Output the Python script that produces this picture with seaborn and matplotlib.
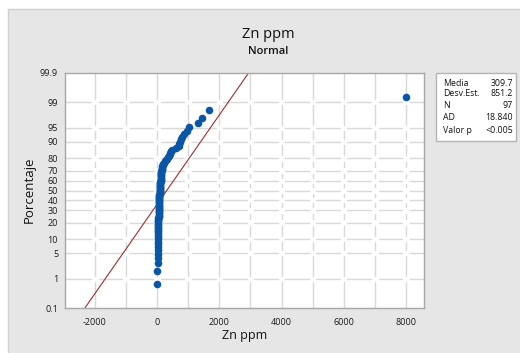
import numpy as np
import pandas as pd
import seaborn as sns
import matplotlib
matplotlib.use("Agg")
import matplotlib.pyplot as plt
from matplotlib.patches import Rectangle
from statistics import NormalDist

# Zn concentrations (ppm), sorted
zn_ppm = [
    5, 10,
    15, 18, 20, 20, 22, 24, 25, 26, 28, 30, 30, 32, 34, 35, 36, 38, 40, 40,
    42, 44, 45, 46, 48, 50, 50, 52, 54, 55,
    56, 58, 60, 60, 62, 64, 65, 66, 68, 70, 72, 74, 75, 76, 78, 80, 82, 84,
    85, 88, 90, 92, 95, 98, 100, 102, 105, 108, 110, 112,
    115, 118, 120, 125, 128, 130, 135, 140, 150,
    160, 165, 170, 180,
    200, 230, 260, 280,
    320, 350, 380, 400,
    430, 450,
    495, 600, 690, 720, 750, 770, 815, 870, 955,
    1030, 1300, 1430, 1680, 8000,
]

# Summary statistics reported for the normal fit
stat_names = ["Media", "Desv.Est.", "N", "AD", "Valor p"]
stat_values = ["309.7", "851.2", "97", "18.840", "<0.005"]
fit_mean = 309.7
fit_sd = 851.2

pct_ticks = [0.1, 1, 5, 10, 20, 30, 40, 50, 60, 70, 80, 90, 95, 99, 99.9]
pct_labels = ["0.1", "1", "5", "10", "20", "30", "40", "50", "60", "70",
              "80", "90", "95", "99", "99.9"]
x_ticks = [-2000, 0, 2000, 4000, 6000, 8000]

nd = NormalDist()
n = len(zn_ppm)
# median-rank plotting positions
ranks = np.arange(1, n + 1)
probs = (ranks - 0.3) / (n + 0.4)
df = pd.DataFrame({"Zn ppm": sorted(zn_ppm),
                   "z": [nd.inv_cdf(p) for p in probs]})

z_lo, z_hi = nd.inv_cdf(0.001), nd.inv_cdf(0.999)
fit = pd.DataFrame({"z": [z_lo, z_hi]})
fit["Zn ppm"] = fit_mean + fit_sd * fit["z"]

sns.set_style("white")
plt.rcParams["font.family"] = ["Open Sans", "DejaVu Sans"]

W, H = 520, 353
fig = plt.figure(figsize=(W / 100, H / 100), dpi=100)
fig.patch.set_facecolor("white")


def fx(x):
    return x / W


def fy(y):
    return 1 - y / H


# grey graph panel
fig.add_artist(Rectangle((fx(8), -0.05), 1.1 - fx(8), fy(9) + 0.05,
                         transform=fig.transFigure, facecolor="#e6e6e6",
                         edgecolor="#cfcfcf", lw=1, zorder=0))

ax = fig.add_axes([fx(65), fy(308), fx(424) - fx(65), fy(73) - fy(308)])
ax.set_facecolor("white")
xmin, xmax = -2960, 8580
ax.set_xlim(xmin, xmax)
ax.set_ylim(z_lo, z_hi)

# broken grid lines
grid_col = "#d8d8d8"
vx = list(range(-2000, 8001, 1000))
hz = [nd.inv_cdf(p / 100) for p in pct_ticks[1:-1]]
gx, gz = 120, 0.085
xb = [xmin] + vx + [xmax]
for z in hz:
    for a, b in zip(xb[:-1], xb[1:]):
        a2 = a + (gx if a != xmin else 0)
        b2 = b - (gx if b != xmax else 0)
        if b2 > a2:
            ax.plot([a2, b2], [z, z], color=grid_col, lw=1, zorder=1)
zb = [z_lo] + hz + [z_hi]
for x in vx:
    for a, b in zip(zb[:-1], zb[1:]):
        a2 = a + (gz if a != z_lo else 0)
        b2 = b - (gz if b != z_hi else 0)
        if b2 > a2:
            ax.plot([x, x], [a2, b2], color=grid_col, lw=1, zorder=1)

sns.lineplot(data=fit, x="Zn ppm", y="z", ax=ax, color="#9e2e2e", lw=0.8,
             zorder=2, sort=False)
sns.scatterplot(data=df, x="Zn ppm", y="z", ax=ax, color="#0a56a6", s=30,
                edgecolor="#0a56a6", linewidth=0, zorder=3)

ax.set_xticks(x_ticks)
ax.set_xticklabels([str(t) for t in x_ticks])
ax.set_yticks([nd.inv_cdf(p / 100) for p in pct_ticks])
ax.set_yticklabels(pct_labels)
ax.tick_params(axis="both", labelsize=6.5, colors="#333333", length=3,
               width=0.8, direction="out", pad=2)
for lab in ax.get_xticklabels() + ax.get_yticklabels():
    lab.set_color("#1a1a1a")
ax.tick_params(axis="x", pad=4)
for sp in ax.spines.values():
    sp.set_color("#a8a8a8")
    sp.set_linewidth(1)
ax.set_xlabel("")
ax.set_ylabel("")

fig.text(fx(245), fy(335), "Zn ppm", ha="center", va="center", fontsize=9,
         color="#111111")
fig.text(fx(29), fy(190), "Porcentaje", ha="center", va="center", fontsize=9.5,
         rotation=90, color="#111111")
fig.text(fx(268), fy(35), "Zn ppm", ha="center", va="center", fontsize=10.5,
         color="#111111")
fig.text(fx(268), fy(51), "Normal", ha="center", va="center", fontsize=8,
         fontweight="semibold", color="#111111")

# statistics box
fig.add_artist(Rectangle((fx(436), fy(141)), fx(516) - fx(436), fy(73) - fy(141),
                         transform=fig.transFigure, facecolor="white",
                         edgecolor="#b4b4b4", lw=1, zorder=5))
row_y = [83, 94, 106, 118, 130.5]
for name, val, y in zip(stat_names, stat_values, row_y):
    fig.text(fx(443), fy(y), name, ha="left", va="center", fontsize=6.3,
             color="#111111", zorder=6)
    fig.text(fx(513), fy(y), val, ha="right", va="center", fontsize=6.3,
             color="#111111", zorder=6)

fig.savefig("out.png", dpi=100)
